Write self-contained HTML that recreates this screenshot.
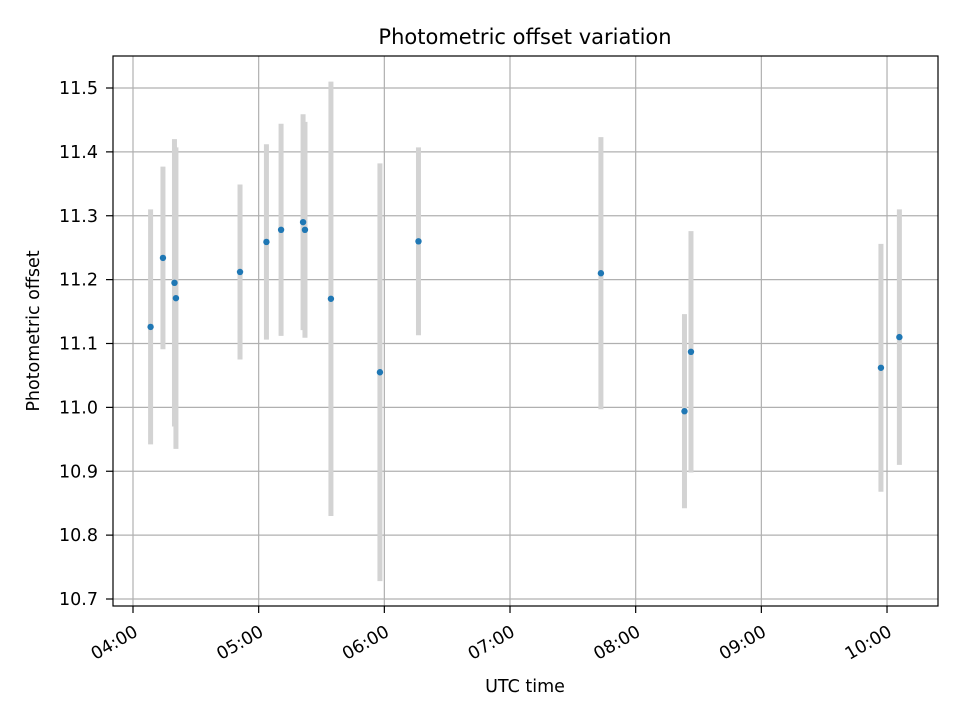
<!DOCTYPE html>
<html><head><meta charset="utf-8"><style>
body{margin:0;background:#fff;}
svg text{font-family:"DejaVu Sans","Liberation Sans",sans-serif;fill:#000;}
</style></head><body>
<svg id="chart" width="960" height="720" xmlns="http://www.w3.org/2000/svg">
<rect width="960" height="720" fill="#fff"/>
<g id="grid"></g><g id="errs"></g><g id="pts"></g><g id="axes"></g>
<text x="525" y="44" text-anchor="middle" font-size="21">Photometric offset variation</text>
<text x="525" y="692" text-anchor="middle" font-size="17.5">UTC time</text>
<text transform="translate(39,331) rotate(-90)" text-anchor="middle" font-size="17.5">Photometric offset</text>
</svg>
<script>
// minutes after 04:00
const times=[8.4,14.3,19.8,20.5,51.1,63.7,70.7,81.2,82.1,94.5,117.9,136.3,223.4,263.3,266.4,357.1,365.9];
const offsets=[11.126,11.234,11.195,11.171,11.212,11.259,11.278,11.290,11.278,11.170,11.055,11.260,11.210,10.994,11.087,11.062,11.110];
const errors=[0.184,0.143,0.225,0.236,0.137,0.153,0.166,0.169,0.169,0.340,0.327,0.147,0.213,0.152,0.189,0.194,0.200];
const yTicks=[10.7,10.8,10.9,11.0,11.1,11.2,11.3,11.4,11.5];
const xTickLabels=["04:00","05:00","06:00","07:00","08:00","09:00","10:00"];
const L=113,R=938,T=56,B=606;
const xs=m=>133+m*125.67/60;
const ys=v=>88+(11.5-v)*638.75;
const NS="http://www.w3.org/2000/svg";
function mk(p,tag,a){const e=document.createElementNS(NS,tag);for(const k in a)e.setAttribute(k,a[k]);document.getElementById(p).appendChild(e);return e;}
yTicks.forEach((t,i)=>{const y=ys(t);
 const g=mk('grid','line',{x1:L,x2:R,y1:y,y2:y,stroke:'#b0b0b0','stroke-width':1.2});
 
 
 mk('axes','line',{x1:L-7,x2:L,y1:y,y2:y,stroke:'#000','stroke-width':1.2});
 const tx=mk('axes','text',{x:L-15,y:y+6,'text-anchor':'end','font-size':17.5});tx.textContent=t.toFixed(1);
 
 
});
xTickLabels.forEach((l,i)=>{const x=xs(i*60);
 const g=mk('grid','line',{x1:x,x2:x,y1:T,y2:B,stroke:'#b0b0b0','stroke-width':1.2});
 
 
 mk('axes','line',{x1:x,x2:x,y1:B,y2:B+7,stroke:'#000','stroke-width':1.2});
 const tx=mk('axes','text',{transform:`translate(${x+6},${B+29}) rotate(-30)`,'text-anchor':'end','font-size':17.5});tx.textContent=l;
 
 
});
const fr=mk('axes','rect',{x:L,y:T,width:R-L,height:B-T,fill:'none',stroke:'#000','stroke-width':1.2});


times.forEach((m,i)=>{const x=xs(m);
 const e=mk('errs','line',{x1:x,x2:x,y1:ys(offsets[i]+errors[i]),y2:ys(offsets[i]-errors[i]),stroke:'#d3d3d3','stroke-width':5});
 
 
 const c=mk('pts','circle',{cx:x,cy:ys(offsets[i]),r:3.2,fill:'#1f77b4'});
 
 
});
</script>
</body></html>
